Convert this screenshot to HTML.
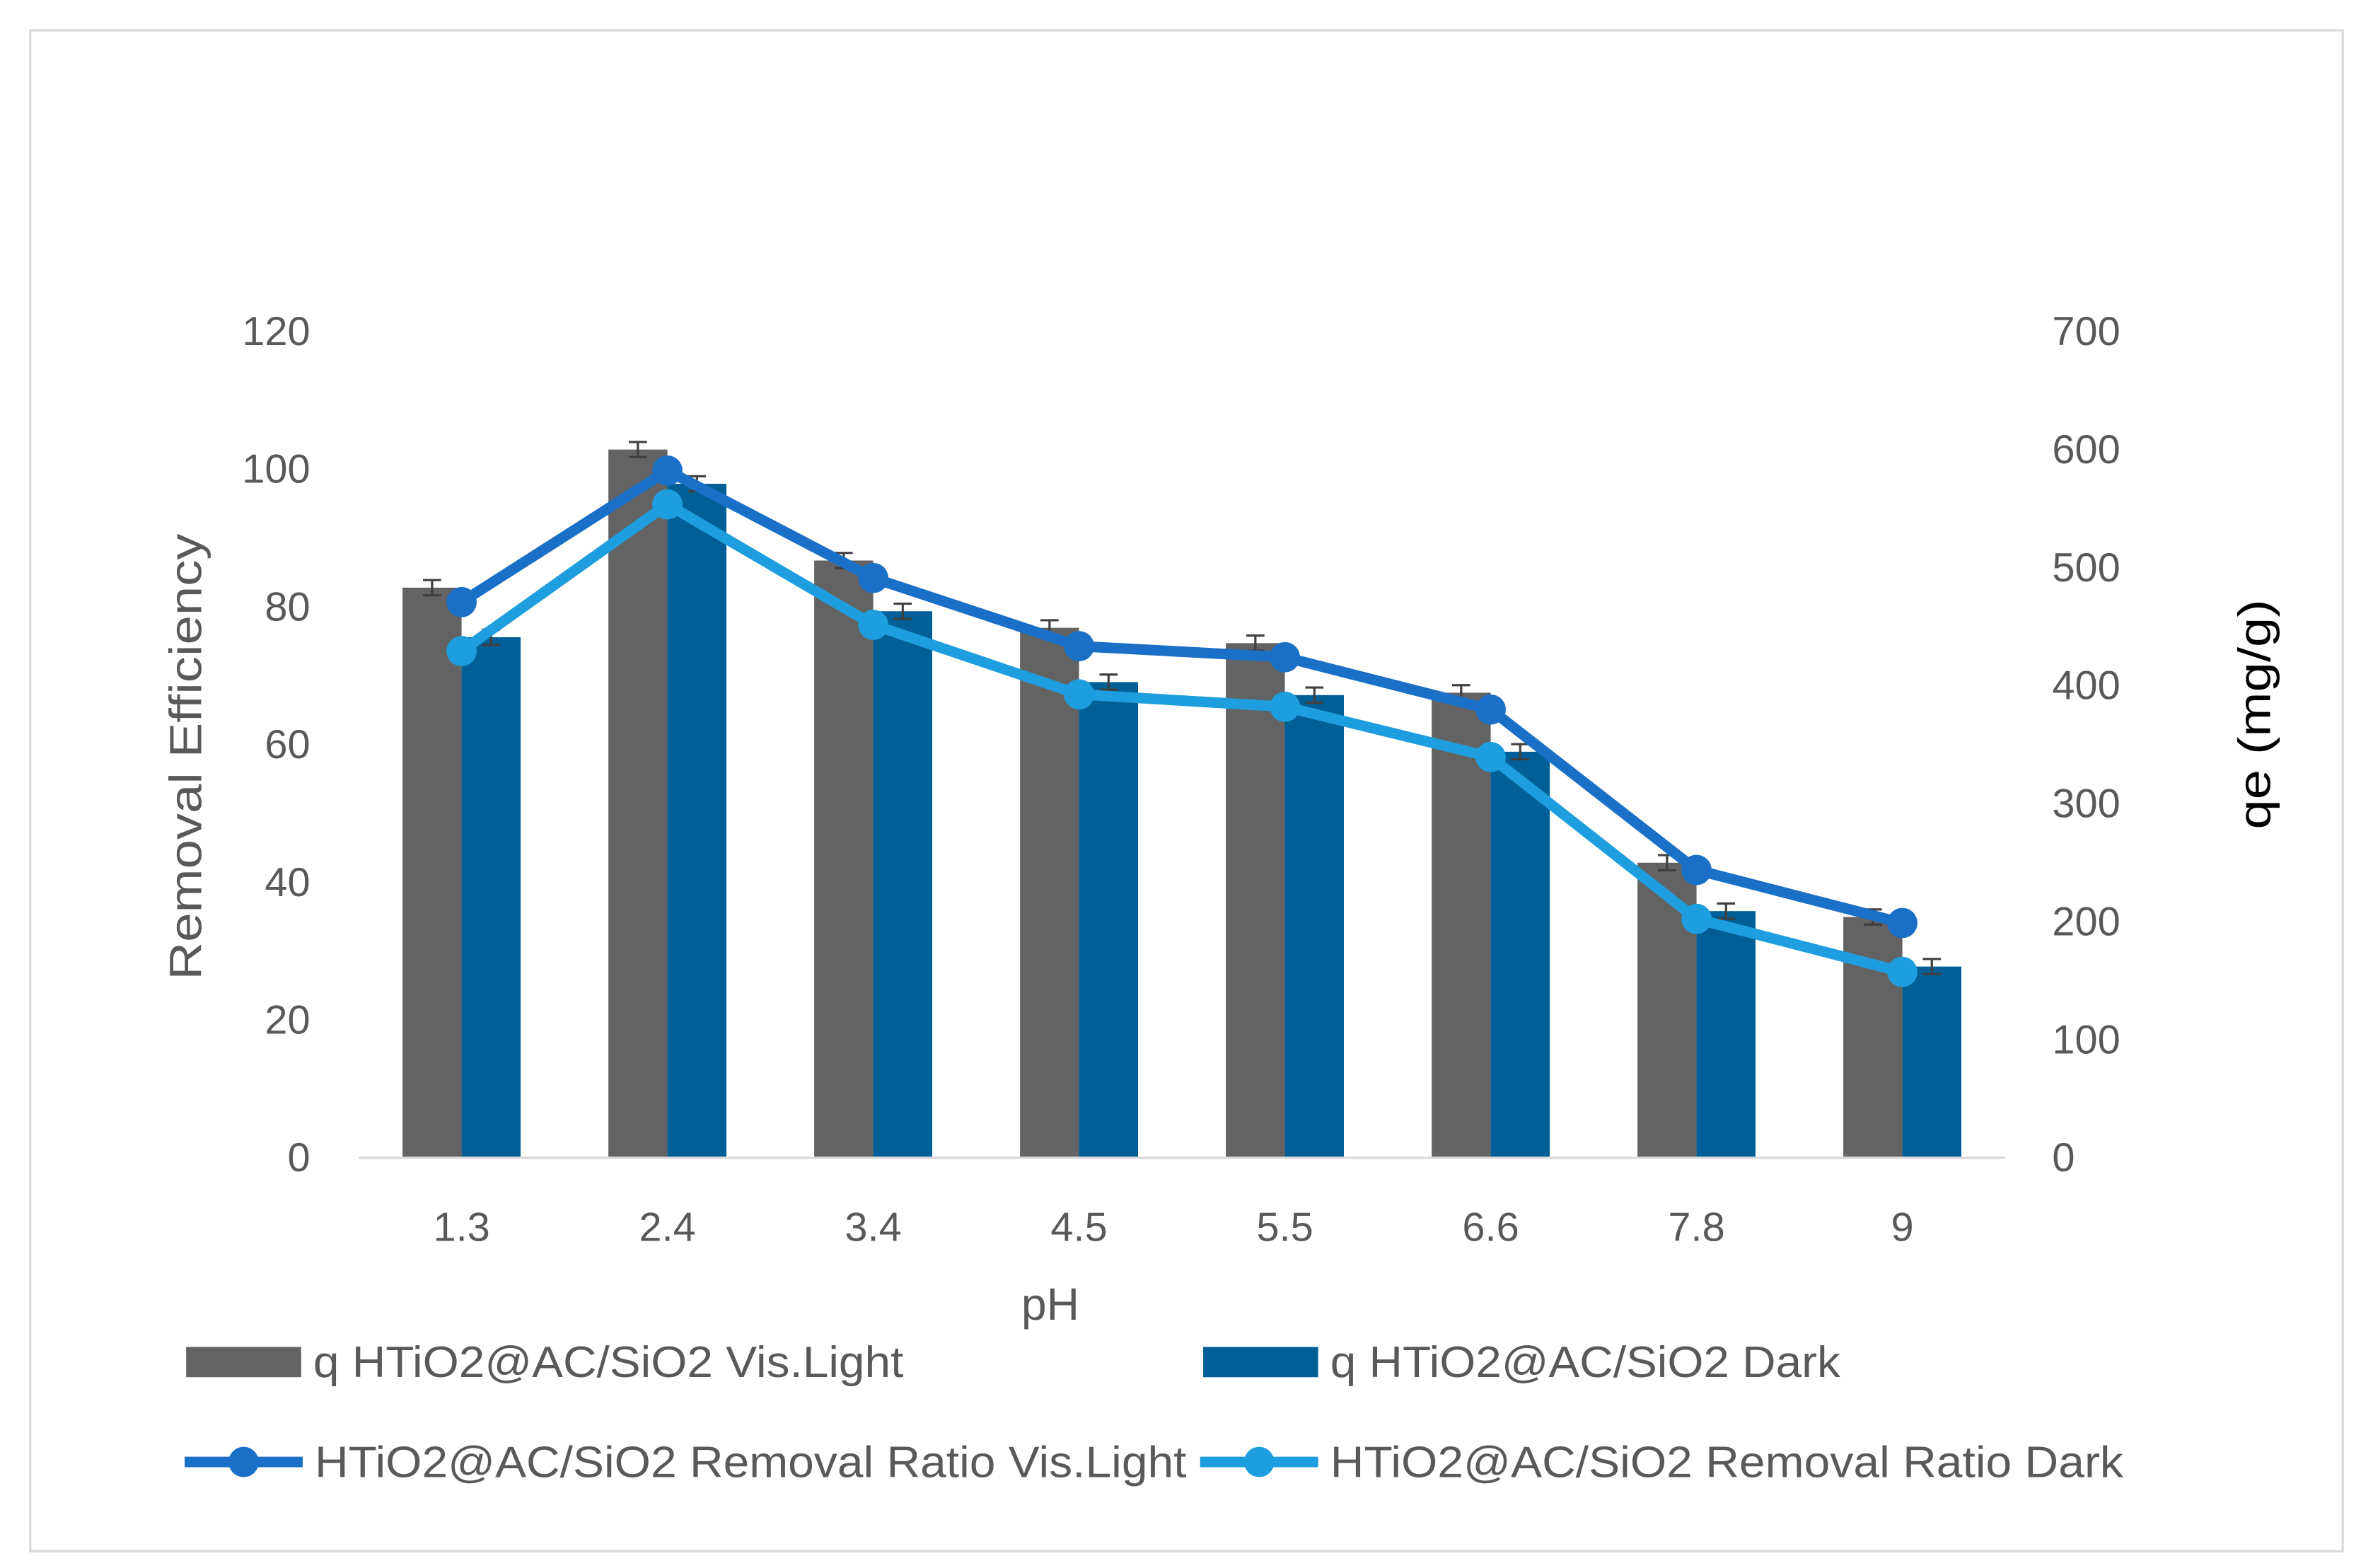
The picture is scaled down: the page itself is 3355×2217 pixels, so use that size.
<!DOCTYPE html>
<html><head><meta charset="utf-8">
<style>html,body{margin:0;padding:0;background:#fff}svg{display:block}text{font-family:"Liberation Sans",sans-serif}</style>
</head><body>
<svg id="chart" width="3355" height="2217" viewBox="0 0 1568 1036" xmlns="http://www.w3.org/2000/svg">
<rect x="20" y="20" width="1528" height="1005" fill="#fff" stroke="#d9d9d9" stroke-width="1.5"/>
<g id="bars"></g>
<g id="lines"></g>
<g id="axes"></g>
<text transform="translate(133,500) rotate(-90)" text-anchor="middle" font-size="30" fill="#595959" textLength="295" lengthAdjust="spacingAndGlyphs">Removal Efficiency</text>
<text transform="translate(1500,472) rotate(-90)" text-anchor="middle" font-size="30" fill="#000" textLength="152" lengthAdjust="spacingAndGlyphs">qe (mg/g)</text>
<text x="694" y="872" text-anchor="middle" font-size="30" fill="#595959">pH</text>
<g font-size="29" fill="#595959">
<rect x="123" y="890" width="76" height="20" fill="#636363"/>
<text x="207" y="910" textLength="390" lengthAdjust="spacingAndGlyphs">q HTiO2@AC/SiO2 Vis.Light</text>
<rect x="795" y="890" width="76" height="20" fill="#005f96"/>
<text x="879" y="910" textLength="337" lengthAdjust="spacingAndGlyphs">q HTiO2@AC/SiO2 Dark</text>
<line x1="122" y1="966" x2="200" y2="966" stroke="#1a6fc7" stroke-width="7"/>
<circle cx="161" cy="966" r="10" fill="#1a6fc7"/>
<text x="208" y="976" textLength="576" lengthAdjust="spacingAndGlyphs">HTiO2@AC/SiO2 Removal Ratio Vis.Light</text>
<line x1="793" y1="966" x2="871" y2="966" stroke="#1e9ede" stroke-width="7"/>
<circle cx="832" cy="966" r="10" fill="#1e9ede"/>
<text x="879" y="976" textLength="524" lengthAdjust="spacingAndGlyphs">HTiO2@AC/SiO2 Removal Ratio Dark</text>
</g>
</svg>
<script>
const categories = ["1.3","2.4","3.4","4.5","5.5","6.6","7.8","9"];
const qVis = [483,600,506,449,436,394,250,204];
const qDark = [441,571,463,403,392,344,209,162];
const ratioVis = [80.7,99.8,84.2,74.3,72.7,65.1,41.8,34.1];
const ratioDark = [73.6,94.9,77.4,67.3,65.5,58.2,34.7,27.0];
const leftTicks = [0,20,40,60,80,100,120];
const rightTicks = [0,100,200,300,400,500,600,700];
const NS="http://www.w3.org/2000/svg";
const x0=237,x1=1325,y0=765,y1=219;
const step=(x1-x0)/categories.length;
const xc=i=>x0+step*(i+0.5);
const yL=v=>y0-(v/120)*(y0-y1);
const yR=v=>y0-(v/700)*(y0-y1);
function mk(tag,attrs,parent){const e=document.createElementNS(NS,tag);for(const k in attrs)e.setAttribute(k,attrs[k]);parent.appendChild(e);return e;}
const bars=document.getElementById('bars'),lines=document.getElementById('lines'),axes=document.getElementById('axes');
const bw=39;
categories.forEach((c,i)=>{
  [[qVis,-bw,'#636363','bar-vis-'],[qDark,0,'#005f96','bar-dark-']].forEach(([arr,off,col,nm])=>{
    const y=yR(arr[i]);
    const r=mk('rect',{x:xc(i)+off,y:y,width:bw,height:y0-y,fill:col},bars);
    
    
    const cx=xc(i)+off+bw/2, e=5;
    const eb=mk('path',{d:`M${cx} ${y-e}V${y+e}M${cx-6} ${y-e}H${cx+6}M${cx-6} ${y+e}H${cx+6}`,stroke:'#404040','stroke-width':1.5,fill:'none'},bars);
    
    
  });
  const t=mk('text',{x:xc(i),y:820,'text-anchor':'middle','font-size':27,fill:'#595959'},axes);
  t.textContent=c;
  
  
});
[[ratioVis,'#1a6fc7','line-vis-ratio'],[ratioDark,'#1e9ede','line-dark-ratio']].forEach(([arr,col,nm])=>{
  const p=mk('polyline',{points:arr.map((v,i)=>xc(i)+','+yL(v)).join(' '),fill:'none',stroke:col,'stroke-width':7,'stroke-linejoin':'round'},lines);
  
  
  arr.forEach((v,i)=>{
    const m=mk('circle',{cx:xc(i),cy:yL(v),r:10,fill:col},lines);
    
    
  });
});
const ax=mk('line',{x1:x0,y1:y0,x2:x1,y2:y0,stroke:'#d9d9d9','stroke-width':1.5},axes);


leftTicks.forEach(v=>{
  const t=mk('text',{x:205,y:yL(v)+9,'text-anchor':'end','font-size':27,fill:'#595959'},axes);
  t.textContent=v;
  
  
});
rightTicks.forEach(v=>{
  const t=mk('text',{x:1356,y:yR(v)+9,'text-anchor':'start','font-size':27,fill:'#595959'},axes);
  t.textContent=v;
  
  
});
</script>
</body></html>
